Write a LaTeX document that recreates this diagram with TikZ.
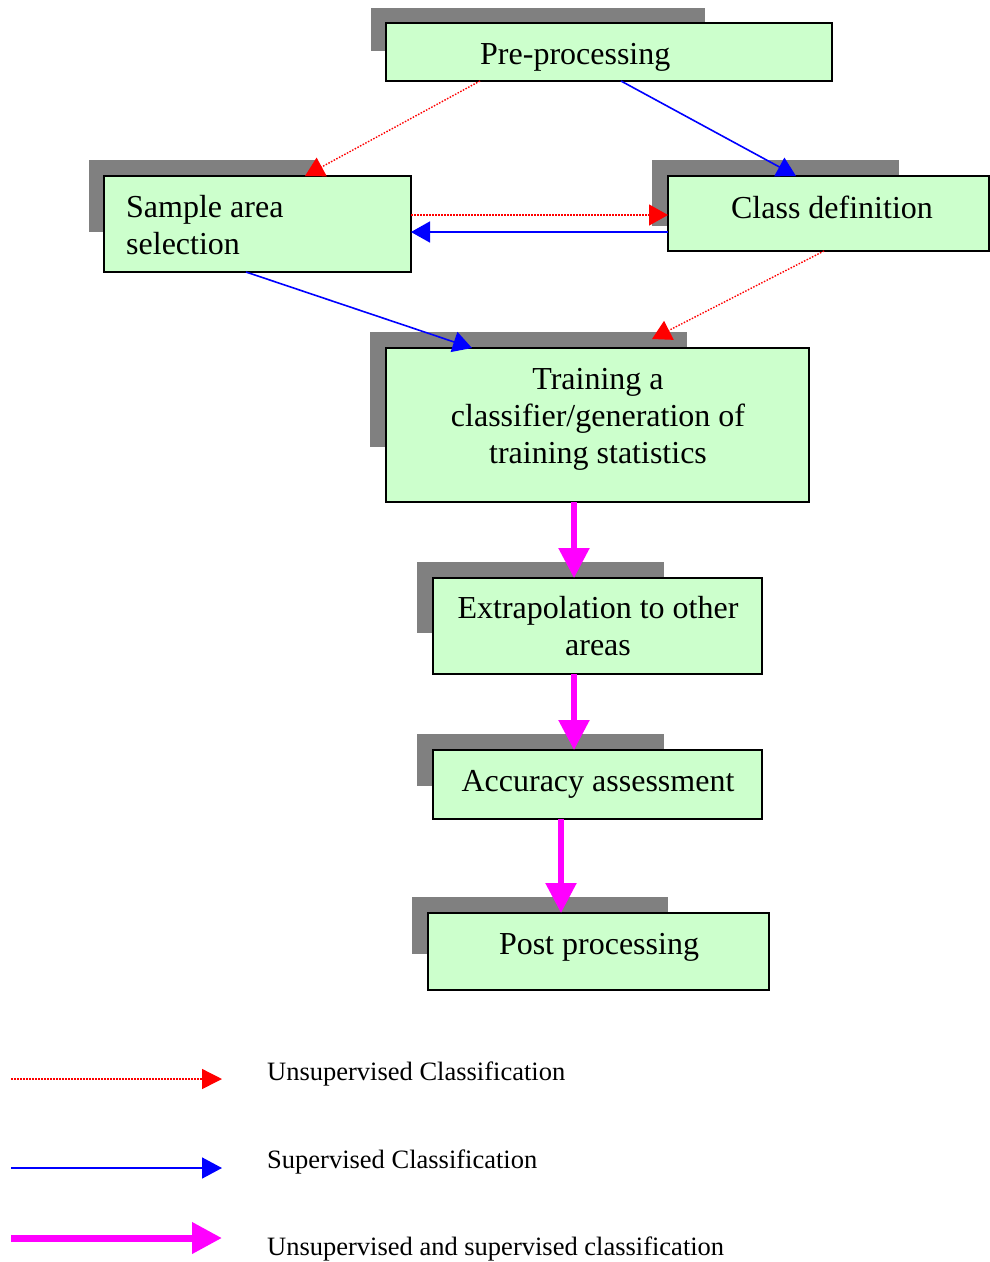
\documentclass[tikz,border=0pt]{standalone}
\usepackage{fontspec}
\setmainfont{Liberation Serif}
\usetikzlibrary{arrows.meta,calc}
\definecolor{boxgreen}{HTML}{CCFFCC}
\definecolor{shadowgray}{HTML}{808080}
\definecolor{magentaline}{HTML}{FF00FF}
\begin{document}
\begin{tikzpicture}[x=1pt,y=-1pt,
  box/.style={draw=black,line width=1.5pt,fill=boxgreen,inner sep=0pt,outer sep=0pt,anchor=north west},
  shadowbox/.style={fill=shadowgray,draw=none},
  txt/.style={font=\fontsize{32}{37}\selectfont,inner sep=0pt,anchor=base},
  legendtxt/.style={font=\fontsize{26.5}{30}\selectfont,inner sep=0pt,anchor=base west},
  unsup/.style={draw=red,line width=1.4pt,dash pattern=on 1.5pt off 1.5pt,-{Triangle[length=19pt,width=21pt]}},
  sup/.style={draw=blue,line width=1.6pt,-{Triangle[length=19pt,width=21pt]}},
  both/.style={draw=magentaline,line width=5.5pt,-{Triangle[length=30pt,width=30pt]}},
  bothlegend/.style={draw=magentaline,line width=7pt,-{Triangle[length=30pt,width=30pt]}}]
\useasboundingbox (0,0) rectangle (989,1262);
\fill[white] (0,0) rectangle (989,1262);

% shadows
\fill[shadowbox] (371,8) rectangle (705,51);
\fill[shadowbox] (89,160) rectangle (318,232);
\fill[shadowbox] (652,160) rectangle (899,226);
\fill[shadowbox] (370,332) rectangle (687,447);
\fill[shadowbox] (417,562) rectangle (664,633);
\fill[shadowbox] (417,734) rectangle (664,786);
\fill[shadowbox] (412,897) rectangle (668,954);

% boxes
\node[box,minimum width=446pt,minimum height=58pt] (pre) at (386,23) {};
\node[box,minimum width=307pt,minimum height=96pt] (sample) at (104,176) {};
\node[box,minimum width=321pt,minimum height=75pt] (class) at (668,176) {};
\node[box,minimum width=423pt,minimum height=154pt] (train) at (386,348) {};
\node[box,minimum width=329pt,minimum height=96pt] (extrap) at (433,578) {};
\node[box,minimum width=329pt,minimum height=69pt] (acc) at (433,750) {};
\node[box,minimum width=341pt,minimum height=77pt] (post) at (428,913) {};

% texts (multi-line nodes: base = last line)
\node[txt,anchor=base west] (preT) at (480,64) {Pre-processing};
\node[txt,anchor=base west,align=left] (sampleT) at (126,254) {Sample area\\selection};
\node[txt] (classT) at (832,218) {Class definition};
\node[txt,align=center] (trainT) at (598,463) {Training a\\classifier/generation of\\training statistics};
\node[txt,align=center] (extrapT) at (598,655) {Extrapolation to other\\areas};
\node[txt] (accT) at (598,791) {Accuracy assessment};
\node[txt] (postT) at (599,954) {Post processing};

% connectors
\draw[unsup] ($(pre.south west)+(94,0)$) -- ($(sample.north west)+(201,0)$);
\draw[sup] ($(pre.south west)+(235,0)$) -- ($(class.north west)+(128,0)$);
\draw[unsup] ($(sample.north east)+(0,39)$) -- ($(class.north west)+(0,39)$);
\draw[sup] ($(class.north west)+(0,56)$) -- ($(sample.north east)+(0,56)$);
\draw[sup] ($(sample.south west)+(142,0)$) -- ($(train.north west)+(86,0)$);
\draw[unsup] ($(class.south west)+(156,0)$) -- ($(train.north west)+(266,-9)$);
\draw[both] ($(train.south west)+(188,0)$) -- ($(extrap.north west)+(141,0)$);
\draw[both] ($(extrap.south west)+(141,0)$) -- ($(acc.north west)+(141,0)$);
\draw[both] ($(acc.south west)+(128,0)$) -- ($(post.north west)+(133,0)$);

% legend
\coordinate (l1s) at (11,1079);
\coordinate (l1e) at (222,1079);
\coordinate (l2s) at (11,1168);
\coordinate (l2e) at (222,1168);
\coordinate (l3s) at (11,1238);
\coordinate (l3e) at (222,1238);
\draw[unsup,-{Triangle[length=20pt,width=20pt]}] (l1s) -- (l1e);
\draw[sup,-{Triangle[length=20pt,width=21pt]}] (l2s) -- (l2e);
\draw[bothlegend] (l3s) -- (l3e);
\node[legendtxt] (leg1) at (267,1080) {Unsupervised Classification};
\node[legendtxt] (leg2) at (267,1168) {Supervised Classification};
\node[legendtxt] (leg3) at (267,1255) {Unsupervised and supervised classification};
\end{tikzpicture}
\end{document}
